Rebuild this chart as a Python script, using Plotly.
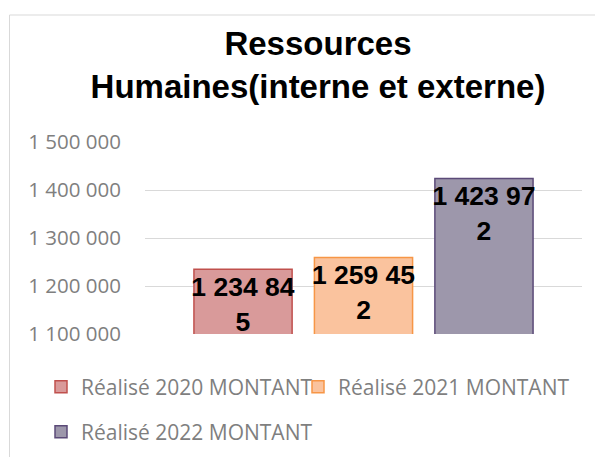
import plotly.graph_objects as go

# ---- data ----
category = ["Ressources Humaines(interne et externe)"]
series_names = ["Réalisé 2020 MONTANT", "Réalisé 2021 MONTANT", "Réalisé 2022 MONTANT"]
values = [1234845, 1259452, 1423972]
bar_labels = ["1 234 84<br>5", "1 259 45<br>2", "1 423 97<br>2"]
y_range = [1100000, 1500000]
tick_vals = [1100000, 1200000, 1300000, 1400000, 1500000]
tick_text = ["1 100 000", "1 200 000", "1 300 000", "1 400 000", "1 500 000"]

fill_colors = ["#d99a9a", "#fac39e", "#9d97ab"]
line_colors = ["#c0504d", "#f79646", "#5b4a78"]

# page body adds an 8px offset, so the figure is drawn 8px smaller
OFF = 8
W, H = 603 - OFF, 457 - OFF
L, R, T, B = 145 - OFF, 21, 142 - OFF, 123
pw, ph = W - L - R, H - T - B

def px_x(px):  # px in screen coordinates of the 603x457 window
    return (px - OFF - L) / pw

def px_y(py):
    return (H - B - (py - OFF)) / ph

fig = go.Figure()
legend_ids = ["legend", "legend2", "legend3"]
for name, v, lab, fc, lc, lg in zip(series_names, values, bar_labels, fill_colors, line_colors, legend_ids):
    fig.add_trace(go.Bar(
        x=category, y=[v], name=name, text=[lab],
        textposition="inside", insidetextanchor="end", constraintext="none",
        textangle=0,
        textfont=dict(family="Liberation Sans, Arial", size=26.5, color="black", weight="bold"),
        marker=dict(color=fc, line=dict(color=lc, width=1.5)),
        legend=lg,
        hoverinfo="skip",
    ))

legend_font = dict(family="Open Sans", size=21, color="#7f7f7f")
def leg(xpx, ypx):
    return dict(x=px_x(xpx), y=px_y(ypx), xanchor="left", yanchor="middle",
                orientation="h", font=legend_font, bgcolor="rgba(0,0,0,0)",
                borderwidth=0)

fig.update_layout(
    width=W, height=H,
    margin=dict(l=L, r=R, t=T, b=B, pad=0, autoexpand=False),
    paper_bgcolor="white", plot_bgcolor="white",
    barmode="group", bargap=0.173, bargroupgap=0.185,
    title=dict(text="Ressources<br>Humaines(interne et externe)",
               font=dict(family="Liberation Sans, Arial", size=33, color="black", weight="bold"),
               x=(318 - OFF) / W, xref="container", xanchor="center",
               y=1 - 47 / H, yref="container", yanchor="middle"),
    xaxis=dict(showticklabels=False, showgrid=False, zeroline=False, showline=False, ticks=""),
    yaxis=dict(range=y_range, tickvals=tick_vals, ticktext=tick_text, showgrid=True,
               gridcolor="#d9d9d9", gridwidth=1, zeroline=False, showline=False, ticks="",
               ticklabelstandoff=23,
               tickfont=dict(family="Open Sans", size=20.5, color="#7f7f7f")),
    legend=leg(41, 387),
    legend2=leg(298, 387),
    legend3=leg(41, 432),
    showlegend=True,
    shapes=[dict(type="rect", xref="paper", yref="paper",
                 x0=px_x(9.5), x1=px_x(640), y0=px_y(500), y1=px_y(15),
                 line=dict(color="#d9d9d9", width=1), fillcolor="rgba(0,0,0,0)",
                 layer="below")],
)

fig.write_html("out.html")
